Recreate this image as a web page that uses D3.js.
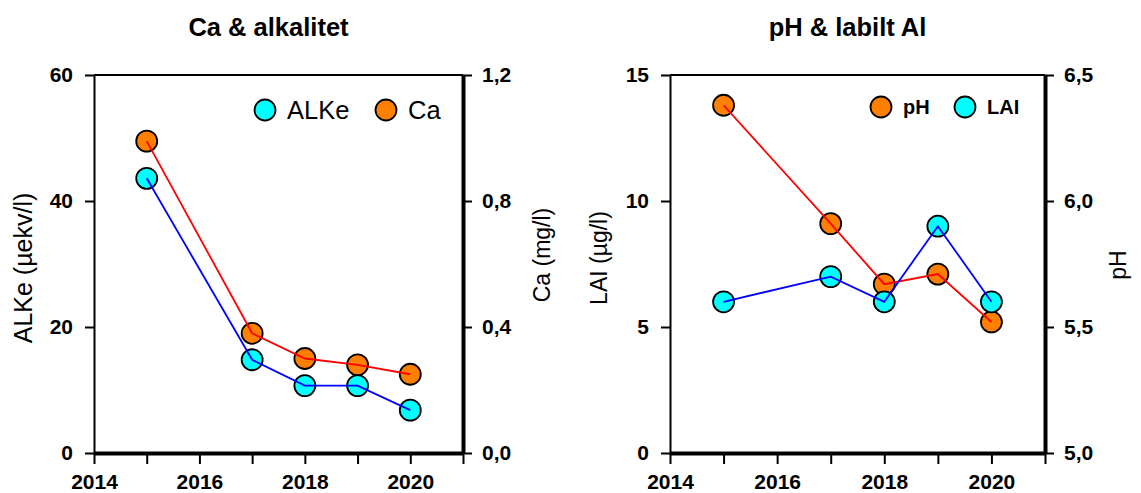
<!DOCTYPE html>
<html>
<head>
<meta charset="utf-8">
<script src="https://cdn.jsdelivr.net/npm/d3@7"></script>
<style>
  body { margin: 0; background: #fff; }
  svg { font-family: "Liberation Sans", Arial, sans-serif; }
  .tick text { font-weight: bold; font-size: 21px; fill: #000; }
  .tick line { stroke: #000; stroke-width: 2px; }
</style>
</head>
<body>
<div id="chart"></div>
<script>
// data
var years = [2015, 2017, 2018, 2019, 2020]
var alke = [43.6, 14.8, 10.7, 10.7, 6.8]       // µekv/l
var ca = [0.99, 0.38, 0.30, 0.28, 0.25]        // mg/l
var lai = [6, 7, 6, 9, 6]                      // µg/l
var ph = [6.38, 5.91, 5.67, 5.71, 5.52]

var xTicks = [2014, 2015, 2016, 2017, 2018, 2019, 2020, 2021]
var alkeTicks = [0, 20, 40, 60]
var caTicks = [0, 0.4, 0.8, 1.2]
var laiTicks = [0, 5, 10, 15]
var phTicks = [5.0, 5.5, 6.0, 6.5]

var cyan = "#00ffff", orange = "#ff8000"
var fmtComma = function (d) { return d3.format(".1f")(d).replace(".", ","); }

var svg = d3.select("#chart").append("svg")
    .attr("width", 1141)
    .attr("height", 493);

var plotTop = 75, plotBottom = 453;

function pintaPanel(cfg) {
    var x = d3.scaleLinear().domain([2014, 2021]).range([cfg.left, cfg.right]);
    var yL = d3.scaleLinear().domain(cfg.leftDomain).range([plotBottom, plotTop]);
    var yR = d3.scaleLinear().domain(cfg.rightDomain).range([plotBottom, plotTop]);

    var g = svg.append("g");

    // title
    g.append("text")
        .attr("x", (cfg.left + cfg.right) / 2 - 10)
        .attr("y", 36)
        .attr("text-anchor", "middle")
        .style("font-weight", "bold")
        .style("font-size", "25.5px")
        .text(cfg.title);

    // axes
    var axL = g.append("g")
        .attr("transform", "translate(" + cfg.left + ",0)")
        .call(d3.axisLeft(yL).tickValues(cfg.leftTicks).tickSize(9).tickSizeOuter(0).tickPadding(12)
            .tickFormat(cfg.leftFmt));
    axL.select(".domain").attr("stroke-width", 2);

    var axR = g.append("g")
        .attr("transform", "translate(" + cfg.right + ",0)")
        .call(d3.axisRight(yR).tickValues(cfg.rightTicks).tickSize(9).tickSizeOuter(0).tickPadding(10)
            .tickFormat(fmtComma));
    axR.select(".domain").attr("stroke-width", 4);

    var axB = g.append("g")
        .attr("transform", "translate(0," + plotBottom + ")")
        .call(d3.axisBottom(x).tickValues(xTicks).tickSize(11).tickSizeOuter(0).tickPadding(10)
            .tickFormat(function (d) { return d % 2 === 0 ? d : ""; }));
    axB.select(".domain").attr("stroke-width", 4);

    g.append("line")
        .attr("x1", cfg.left).attr("x2", cfg.right)
        .attr("y1", plotTop).attr("y2", plotTop)
        .attr("stroke", "#000").attr("stroke-width", 2);

    // axis labels
    g.append("text")
        .attr("transform", "translate(" + cfg.leftLabelX + "," + cfg.leftLabelY + ") rotate(-90)")
        .attr("text-anchor", "middle")
        .style("font-size", cfg.leftLabelSize)
        .text(cfg.leftLabel);
    g.append("text")
        .attr("transform", "translate(" + cfg.rightLabelX + "," + cfg.rightLabelY + ") rotate(-90)")
        .attr("text-anchor", "middle")
        .style("font-size", "23px")
        .text(cfg.rightLabel);

    // series: markers first, line on top
    cfg.series.forEach(function (s) {
        var y = s.axis === "left" ? yL : yR;
        var pts = years.map(function (yr, i) { return [x(yr), y(s.values[i])]; });
        g.append("g").selectAll("circle")
            .data(pts)
            .enter().append("circle")
            .attr("cx", function (d) { return d[0]; })
            .attr("cy", function (d) { return d[1]; })
            .attr("r", 10.5)
            .attr("fill", s.fill)
            .attr("stroke", "#000")
            .attr("stroke-width", 1.8);
        g.append("path")
            .datum(pts)
            .attr("fill", "none")
            .attr("stroke", s.line)
            .attr("stroke-width", 1.8)
            .attr("d", d3.line());
    });

    // legend
    cfg.legend.forEach(function (l) {
        g.append("circle")
            .attr("cx", l.x).attr("cy", cfg.legendY)
            .attr("r", 10.5)
            .attr("fill", l.fill)
            .attr("stroke", "#000")
            .attr("stroke-width", 1.8);
        g.append("text")
            .attr("x", l.x + 22)
            .attr("y", cfg.legendY)
            .attr("dy", "0.36em")
            .style("font-size", cfg.legendSize)
            .style("font-weight", cfg.legendWeight)
            .text(l.name);
    });
}

pintaPanel({
    title: "Ca & alkalitet",
    left: 94, right: 463,
    leftDomain: [0, 60], rightDomain: [0, 1.2],
    leftTicks: alkeTicks, rightTicks: caTicks,
    leftFmt: d3.format("d"),
    leftLabel: "ALKe (µekv/l)", leftLabelX: 32, leftLabelY: 268, leftLabelSize: "25px",
    rightLabel: "Ca (mg/l)", rightLabelX: 550, rightLabelY: 255,
    series: [
        { values: ca, axis: "right", fill: orange, line: "#ff0000" },
        { values: alke, axis: "left", fill: cyan, line: "#0000ff" }
    ],
    legendY: 110, legendSize: "25.5px", legendWeight: "normal",
    legend: [
        { name: "ALKe", x: 265, fill: cyan },
        { name: "Ca", x: 386, fill: orange }
    ]
});

pintaPanel({
    title: "pH & labilt Al",
    left: 670, right: 1045,
    leftDomain: [0, 15], rightDomain: [5, 6.5],
    leftTicks: laiTicks, rightTicks: phTicks,
    leftFmt: d3.format("d"),
    leftLabel: "LAI (µg/l)", leftLabelX: 607, leftLabelY: 258, leftLabelSize: "23px",
    rightLabel: "pH", rightLabelX: 1126, rightLabelY: 265,
    series: [
        { values: ph, axis: "right", fill: orange, line: "#ff0000" },
        { values: lai, axis: "left", fill: cyan, line: "#0000ff" }
    ],
    legendY: 107, legendSize: "20px", legendWeight: "bold",
    legend: [
        { name: "pH", x: 881, fill: orange },
        { name: "LAI", x: 965, fill: cyan }
    ]
});
</script>
</body>
</html>
